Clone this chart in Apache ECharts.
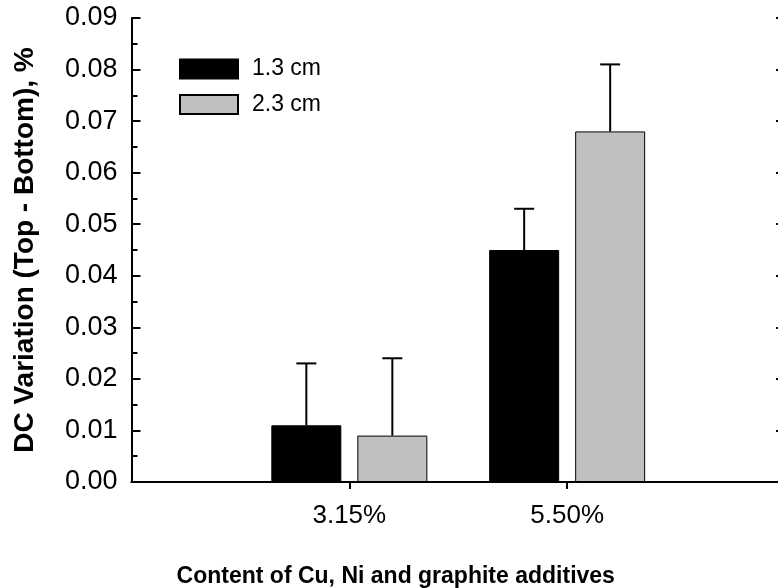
<!DOCTYPE html>
<html>
<head>
<meta charset="utf-8">
<script src="https://cdn.jsdelivr.net/npm/echarts@6/dist/echarts.min.js"></script>
<style>
  html, body { margin: 0; padding: 0; background: #fff; }
  #chart { width: 778px; height: 588px; }
</style>
</head>
<body>
<div id="chart"></div>
<script>
// Additive content groups (blank slots pad the axis on each side)
const categories = ['', '3.15%', '5.50%', ''];
const seriesNames = ['1.3 cm', '2.3 cm'];
// Mean DC variation (top - bottom), %
const values13 = [null, 0.011, 0.045, null];
const values23 = [null, 0.009, 0.068, null];
// Upper error (standard deviation), %
const err13 = [null, 0.012, 0.008, null];
const err23 = [null, 0.015, 0.013, null];

const FONT = 'Liberation Sans, Arial, Helvetica, sans-serif';
const BAR_W = 70;
const BAR_GAP = 16;
const CAP_W = 20;

function errorSeries(values, errs, side) {
  const data = [];
  values.forEach((v, i) => { if (v != null) data.push([i, v, v + errs[i]]); });
  return {
    type: 'custom',
    silent: true,
    z: 5,
    data: data,
    renderItem(params, api) {
      const base = api.coord([api.value(0), api.value(1)]);
      const top = api.coord([api.value(0), api.value(2)]);
      const x = base[0] + side * (BAR_W + BAR_GAP) / 2;
      const st = { stroke: '#000', lineWidth: 2 };
      return {
        type: 'group',
        children: [
          { type: 'line', shape: { x1: x, y1: base[1], x2: x, y2: top[1] }, style: st },
          { type: 'line', shape: { x1: x - CAP_W / 2, y1: top[1], x2: x + CAP_W / 2, y2: top[1] }, style: st }
        ]
      };
    }
  };
}

const chart = echarts.init(document.getElementById('chart'), null, { renderer: 'canvas' });
chart.setOption({
  animation: false,
  backgroundColor: '#fff',
  grid: { left: 131.5, width: 653.5, top: 18, bottom: 106, containLabel: false, outerBoundsMode: 'none' },
  legend: {
    orient: 'vertical',
    left: 179,
    top: 57.5,
    padding: 0,
    itemWidth: 58,
    itemHeight: 19,
    itemGap: 12.6,
    icon: 'rect',
    textStyle: { fontFamily: FONT, fontSize: 23, lineHeight: 19, color: '#000', padding: [0, 0, 0, 9] },
    data: seriesNames
  },
  xAxis: [{
    type: 'category',
    data: categories,
    boundaryGap: false,
    name: 'Content of Cu, Ni and graphite additives',
    nameLocation: 'middle',
    nameGap: 83,
    nameTextStyle: { fontFamily: FONT, fontSize: 23, fontWeight: 'bold', color: '#000',
      padding: [0, 125, 0, 0] },
    axisLine: { lineStyle: { color: '#000', width: 2 } },
    axisTick: { show: true, inside: false, length: 7, lineStyle: { color: '#000', width: 2 },
      interval: (i) => categories[i] !== '' },
    axisLabel: { fontFamily: FONT, fontSize: 26, color: '#000', margin: 21, interval: 0 },
    splitLine: { show: false }
  }, {
    type: 'category',
    data: categories,
    boundaryGap: false,
    position: 'top',
    axisLine: { lineStyle: { color: '#000', width: 2 } },
    axisTick: { show: false },
    axisLabel: { show: false },
    splitLine: { show: false }
  }],
  yAxis: [{
    type: 'value',
    min: 0,
    max: 0.09,
    interval: 0.01,
    name: 'DC Variation (Top - Bottom), %',
    nameLocation: 'middle',
    nameGap: 92,
    nameTextStyle: { fontFamily: FONT, fontSize: 28, fontWeight: 'bold', color: '#000' },
    axisLine: { show: true, lineStyle: { color: '#000', width: 2 } },
    axisTick: { show: true, inside: true, length: 9, lineStyle: { color: '#000', width: 2 } },
    minorTick: { show: true, splitNumber: 2, length: 6, lineStyle: { color: '#000', width: 2 } },
    axisLabel: { fontFamily: FONT, fontSize: 27, color: '#000', margin: 14,
      formatter: (v) => v.toFixed(2) },
    splitLine: { show: false }
  }, {
    type: 'value',
    min: 0,
    max: 0.09,
    interval: 0.01,
    position: 'right',
    axisLine: { show: true, lineStyle: { color: '#000', width: 2 } },
    axisTick: { show: true, inside: true, length: 9, lineStyle: { color: '#000', width: 2 } },
    axisLabel: { show: false },
    splitLine: { show: false }
  }],
  series: [{
    name: seriesNames[0],
    type: 'bar',
    data: values13,
    barWidth: BAR_W,
    barGap: (BAR_GAP / BAR_W * 100) + '%',
    itemStyle: { color: '#000', borderColor: '#000', borderWidth: 1 }
  }, {
    name: seriesNames[1],
    type: 'bar',
    data: values23,
    barWidth: BAR_W,
    barGap: (BAR_GAP / BAR_W * 100) + '%',
    itemStyle: { color: '#c0c0c0', borderColor: '#000', borderWidth: 1 }
  },
  errorSeries(values13, err13, -1),
  errorSeries(values23, err23, 1)
  ]
});
</script>
</body>
</html>
